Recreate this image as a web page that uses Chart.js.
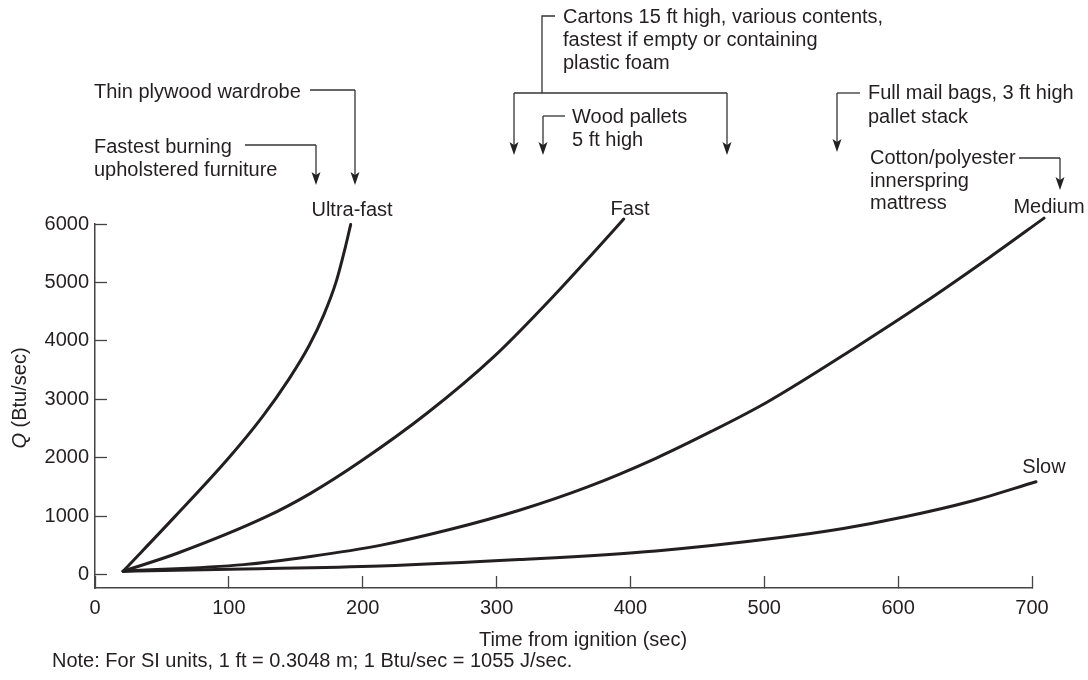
<!DOCTYPE html>
<html>
<head>
<meta charset="utf-8">
<title>Design fire growth curves</title>
<script src="https://cdn.jsdelivr.net/npm/chart.js@4.4.1/dist/chart.umd.min.js"></script>
<style>
  html, body { margin: 0; padding: 0; background: #fff; }
  #wrap { width: 1088px; height: 680px; position: relative; }
</style>
</head>
<body>
<div id="wrap"><canvas id="fireChart" width="1088" height="680"></canvas></div>
<script>
// values: time from ignition (sec) vs Q (Btu/sec)
const ultraFastTime = [21, 60, 100, 125, 145, 160, 171, 180, 187, 191];
const ultraFastQ    = [57, 1000, 2000, 2700, 3350, 3920, 4450, 5000, 5600, 5990];

const fastTime = [21, 61, 128, 161, 198, 248, 298, 347, 372, 395];
const fastQ    = [57, 360, 990, 1390, 1930, 2760, 3730, 4875, 5500, 6085];

const mediumTime = [21, 111, 161, 213, 265, 317, 368, 419, 460, 502, 569, 619, 669, 709];
const mediumQ    = [57, 170, 310, 500, 770, 1100, 1500, 1990, 2445, 2950, 3900, 4646, 5440, 6100];

const slowTime = [21, 111, 213, 317, 419, 512, 559, 605, 653, 703];
const slowQ    = [57, 95, 147, 257, 405, 634, 788, 988, 1245, 1588];

const xTicks = [0, 100, 200, 300, 400, 500, 600, 700];
const yTicks = [0, 1000, 2000, 3000, 4000, 5000, 6000];

(() => {
  const FONT = "'Liberation Sans', Arial, Helvetica, sans-serif";
  const SIZE = 20;
  const INK = '#231f20';
  const AXIS = '#444';
  Chart.defaults.font.family = FONT;
  Chart.defaults.font.size = SIZE;
  Chart.defaults.color = INK;

  const pts = (t, q) => t.map((v, i) => ({ x: v, y: q[i] }));
  const curve = (label, t, q) => ({
    label,
    data: pts(t, q),
    showLine: true,
    borderColor: INK,
    borderWidth: 3,
    pointRadius: 0,
    cubicInterpolationMode: 'monotone',
    borderCapStyle: 'round',
    clip: false,
  });

  // leader lines, arrows and the text around the plot
  function arrow(ctx, x, y1, y2) {
    ctx.beginPath();
    ctx.moveTo(x, y1);
    ctx.lineTo(x, y2 - 8);
    ctx.stroke();
    ctx.beginPath();
    ctx.moveTo(x, y2);
    ctx.lineTo(x - 4.5, y2 - 13);
    ctx.lineTo(x, y2 - 10);
    ctx.lineTo(x + 4.5, y2 - 13);
    ctx.closePath();
    ctx.fill();
  }
  function path(ctx, p) {
    ctx.beginPath();
    ctx.moveTo(p[0][0], p[0][1]);
    for (let i = 1; i < p.length; i++) ctx.lineTo(p[i][0], p[i][1]);
    ctx.stroke();
  }

  const notes = [
    ['Thin plywood wardrobe', 94, 92],
    ['Fastest burning', 94, 147],
    ['upholstered furniture', 94, 170],
    ['Cartons 15 ft high, various contents,', 563, 17],
    ['fastest if empty or containing', 563, 40],
    ['plastic foam', 563, 63],
    ['Wood pallets', 572, 117],
    ['5 ft high', 572, 140],
    ['Full mail bags, 3 ft high', 868, 93],
    ['pallet stack', 868, 117],
    ['Cotton/polyester', 870, 158],
    ['innerspring', 870, 181],
    ['mattress', 870, 203],
  ];
  const curveLabels = [
    ['Ultra-fast', 352, 210],
    ['Fast', 630, 209],
    ['Medium', 1049, 207],
    ['Slow', 1044, 467],
  ];

  const annotate = {
    id: 'annotate',
    afterDraw(chart) {
      const ctx = chart.ctx;
      const f = SIZE + 'px ' + FONT;
      ctx.save();
      ctx.fillStyle = INK;
      ctx.font = f;
      ctx.textBaseline = 'middle';
      ctx.textAlign = 'left';
      notes.forEach(([s, x, y]) => ctx.fillText(s, x, y));
      ctx.textAlign = 'center';
      curveLabels.forEach(([s, x, y]) => ctx.fillText(s, x, y));

      ctx.strokeStyle = '#333';
      ctx.fillStyle = '#222';
      ctx.lineWidth = 1.3;
      path(ctx, [[310, 90], [355, 90]]);
      arrow(ctx, 355, 90, 185);
      path(ctx, [[245, 145], [316, 145]]);
      arrow(ctx, 316, 145, 185);
      path(ctx, [[555, 16], [542, 16], [542, 93]]);
      path(ctx, [[514, 93], [727, 93]]);
      arrow(ctx, 514, 93, 155);
      arrow(ctx, 727, 93, 155);
      path(ctx, [[565, 116], [543, 116]]);
      arrow(ctx, 543, 116, 155);
      path(ctx, [[860, 93], [837, 93]]);
      arrow(ctx, 837, 93, 152);
      path(ctx, [[1019, 158], [1060, 158]]);
      arrow(ctx, 1060, 158, 190);

      // y title with italic Q
      ctx.fillStyle = INK;
      ctx.translate(20, 398);
      ctx.rotate(-Math.PI / 2);
      ctx.textAlign = 'left';
      ctx.font = 'italic ' + f;
      const wq = ctx.measureText('Q').width;
      ctx.font = f;
      const rest = ' (Btu/sec)';
      const wr = ctx.measureText(rest).width;
      const x0 = -(wq + wr) / 2;
      ctx.font = 'italic ' + f;
      ctx.fillText('Q', x0, 0);
      ctx.font = f;
      ctx.fillText(rest, x0 + wq, 0);
      ctx.restore();

      ctx.save();
      ctx.fillStyle = INK;
      ctx.font = f;
      ctx.textBaseline = 'middle';
      ctx.textAlign = 'center';
      ctx.fillText('Time from ignition (sec)', 583, 640);
      ctx.textAlign = 'left';
      ctx.fillText('Note: For SI units, 1 ft = 0.3048 m; 1 Btu/sec = 1055 J/sec.', 52, 661);
      ctx.restore();
    }
  };

  const axisGrid = {
    drawOnChartArea: false,
    drawTicks: true,
    tickLength: -12,
    tickColor: AXIS,
    tickWidth: 1.3,
  };

  new Chart(document.getElementById('fireChart'), {
    type: 'scatter',
    data: {
      datasets: [
        curve('Ultra-fast', ultraFastTime, ultraFastQ),
        curve('Fast', fastTime, fastQ),
        curve('Medium', mediumTime, mediumQ),
        curve('Slow', slowTime, slowQ),
      ]
    },
    options: {
      responsive: false,
      animation: false,
      layout: { padding: { top: 224, right: 56, left: 0, bottom: 0 } },
      plugins: { legend: { display: false }, tooltip: { enabled: false } },
      scales: {
        x: {
          type: 'linear',
          min: 0,
          max: 700,
          afterBuildTicks: s => { s.ticks = xTicks.map(v => ({ value: v })); },
          afterFit: s => { s.height = 92; },
          ticks: { autoSkip: false, maxRotation: 0, padding: 20, color: INK, callback: v => String(v) },
          grid: axisGrid,
          border: { color: AXIS, width: 1.5 },
        },
        y: {
          type: 'linear',
          min: -230,
          max: 6000,
          afterBuildTicks: s => { s.ticks = yTicks.map(v => ({ value: v })); },
          afterFit: s => { s.width = 95; },
          ticks: { autoSkip: false, padding: 18, color: INK, callback: v => String(v) },
          grid: axisGrid,
          border: { color: AXIS, width: 1.5 },
        }
      }
    },
    plugins: [annotate]
  });
})();
</script>
</body>
</html>
